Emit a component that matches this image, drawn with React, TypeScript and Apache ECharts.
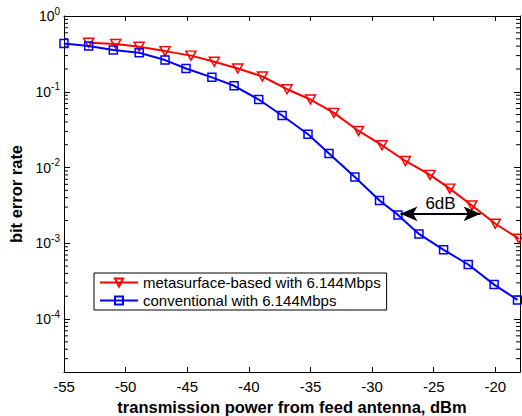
import React, { useEffect, useRef } from "react";
import * as echarts from "echarts";

const redName = "metasurface-based with 6.144Mbps";
const blueName = "conventional with 6.144Mbps";

const redX = [-53, -50.8, -48.9, -46.8, -44.7, -42.8, -40.9, -38.9, -36.9, -35, -33.1, -31.1, -29.2, -27.3, -25.3, -23.7, -21.9, -20, -18.1];
const redY = [0.443, 0.426, 0.393, 0.344, 0.3, 0.249, 0.203, 0.159, 0.108, 0.079, 0.0526, 0.0304, 0.0197, 0.0122, 0.008, 0.00526, 0.00316, 0.00181, 0.00115];

const blueX = [-55, -53, -51, -48.9, -46.8, -45.1, -43, -41.2, -39.2, -37.3, -35.2, -33.5, -31.4, -29.4, -27.9, -26.2, -24.2, -22.2, -20.1, -18.2];
const blueY = [0.435, 0.401, 0.355, 0.327, 0.262, 0.203, 0.155, 0.12, 0.079, 0.0486, 0.0275, 0.0153, 0.0075, 0.00368, 0.00237, 0.00133, 0.00082, 0.000525, 0.000285, 0.000179];

const xMin = -55;
const xMax = -18;
const yMin = 2e-5;
const yMax = 1;

const arrowStart = [-27.7, 0.00245];
const arrowEnd = [-21.2, 0.00245];
const arrowLabel = "6dB";

const minorMultipliers = [2, 3, 4, 5, 6, 7, 8, 9];
const minorDecades = [-5, -4, -3, -2, -1];

const FONT = "'Liberation Sans', Arial, Helvetica, sans-serif";

export default function App() {
  const ref = useRef<HTMLDivElement>(null);

  useEffect(() => {
    if (!ref.current) return;
    const chart = echarts.init(ref.current, undefined, { renderer: "svg" });

    const minorTicks: number[] = [];
    minorDecades.forEach((d) => {
      minorMultipliers.forEach((m) => {
        const v = m * Math.pow(10, d);
        if (v > yMin * 1.0001 && v < yMax) minorTicks.push(v);
      });
    });

    const axisLineStyle = { color: "#000", width: 1 };

    const option: any = {
      animation: false,
      backgroundColor: "#fff",
      textStyle: { fontFamily: FONT },
      grid: { left: 64, right: 2, top: 16, bottom: 44, outerBoundsMode: "none" },
      legend: {
        show: true,
        orient: "vertical",
        left: 94,
        top: 273,
        data: [redName, blueName],
        backgroundColor: "#fff",
        borderColor: "#000",
        borderWidth: 1,
        borderRadius: 0,
        padding: [2, 6, 2, 5],
        itemGap: 3,
        itemWidth: 38,
        itemHeight: 10,
        selectedMode: false,
        textStyle: { fontSize: 15, color: "#000", fontFamily: FONT },
      },
      xAxis: [
        {
          type: "value",
          position: "bottom",
          min: xMin,
          max: xMax,
          interval: 5,
          axisLine: { show: true, lineStyle: axisLineStyle },
          axisTick: { show: true, inside: true, length: 5, lineStyle: axisLineStyle },
          axisLabel: { color: "#000", fontSize: 15, margin: 7, showMaxLabel: false, fontFamily: FONT },
          splitLine: { show: false },
          name: "transmission power from feed antenna, dBm",
          nameLocation: "middle",
          nameGap: 24,
          nameTextStyle: { fontSize: 16.5, fontWeight: "bold", color: "#000", fontFamily: FONT },
        },
        {
          type: "value",
          position: "top",
          min: xMin,
          max: xMax,
          interval: 5,
          axisLine: { show: true, lineStyle: axisLineStyle },
          axisTick: { show: true, inside: true, length: 5, lineStyle: axisLineStyle },
          axisLabel: { show: false },
          splitLine: { show: false },
        },
      ],
      yAxis: [
        {
          type: "log",
          logBase: 10,
          position: "left",
          min: yMin,
          max: yMax,
          axisLine: { show: true, lineStyle: axisLineStyle },
          axisTick: { show: true, inside: true, length: 6, lineStyle: axisLineStyle },
          axisLabel: {
            color: "#000",
            margin: 4,
            showMinLabel: false,
            formatter: (v: number) => {
              const e = Math.round(Math.log10(v));
              return `{b|10}{s|${e}}`;
            },
            rich: {
              b: { fontSize: 14, color: "#000", fontFamily: FONT, verticalAlign: "bottom", padding: [3, 0, 3, 0] },
              s: { fontSize: 10, color: "#000", fontFamily: FONT, verticalAlign: "top", lineHeight: 12 },
            },
          },
          splitLine: { show: false },
          name: "bit error rate",
          nameLocation: "middle",
          nameGap: 39,
          nameTextStyle: { fontSize: 16.5, fontWeight: "bold", color: "#000", fontFamily: FONT },
        },
        {
          type: "log",
          logBase: 10,
          position: "right",
          min: yMin,
          max: yMax,
          axisLine: { show: true, lineStyle: axisLineStyle },
          axisTick: { show: true, inside: true, length: 6, lineStyle: axisLineStyle },
          axisLabel: { show: false },
          splitLine: { show: false },
        },
      ],
      series: [
        {
          name: "minorTicks",
          type: "custom",
          xAxisIndex: 0,
          yAxisIndex: 0,
          silent: true,
          clip: false,
          z: 1,
          data: minorTicks.map((v) => [xMin, v]),
          renderItem: (params: any, api: any) => {
            const v = api.value(1);
            const p1 = api.coord([xMin, v]);
            const p2 = api.coord([xMax, v]);
            const style = { stroke: "#000", lineWidth: 1 };
            return {
              type: "group",
              children: [
                { type: "line", shape: { x1: p1[0], y1: p1[1], x2: p1[0] + 4, y2: p1[1] }, style },
                { type: "line", shape: { x1: p2[0], y1: p2[1], x2: p2[0] - 4, y2: p2[1] }, style },
              ],
            };
          },
        },
        {
          name: redName,
          type: "line",
          xAxisIndex: 0,
          yAxisIndex: 0,
          data: redX.map((x, i) => [x, redY[i]]),
          symbol: "triangle",
          symbolRotate: 180,
          symbolSize: [10, 9],
          showSymbol: true,
          lineStyle: { color: "#ff0000", width: 2 },
          itemStyle: { color: "transparent", borderColor: "#ff0000", borderWidth: 1.5 },
          z: 2,
        },
        {
          name: blueName,
          type: "line",
          xAxisIndex: 0,
          yAxisIndex: 0,
          data: blueX.map((x, i) => [x, blueY[i]]),
          symbol: "rect",
          symbolSize: 8,
          showSymbol: true,
          lineStyle: { color: "#0000ff", width: 2 },
          itemStyle: { color: "transparent", borderColor: "#0000ff", borderWidth: 1.5 },
          z: 3,
          markLine: {
            silent: true,
            symbol: ["arrow", "arrow"],
            symbolSize: [11, 17],
            lineStyle: { color: "#000", width: 2, type: "solid" },
            label: {
              show: true,
              position: "middle",
              formatter: arrowLabel,
              fontSize: 17,
              color: "#000",
              fontFamily: FONT,
              distance: 2,
            },
            data: [[{ coord: arrowStart }, { coord: arrowEnd }]],
          },
        },
      ],
    };

    chart.setOption(option);
    return () => chart.dispose();
  }, []);

  return (
    <div
      ref={ref}
      style={{ position: "fixed", left: 0, top: 0, width: 522, height: 416, background: "#fff" }}
    />
  );
}
